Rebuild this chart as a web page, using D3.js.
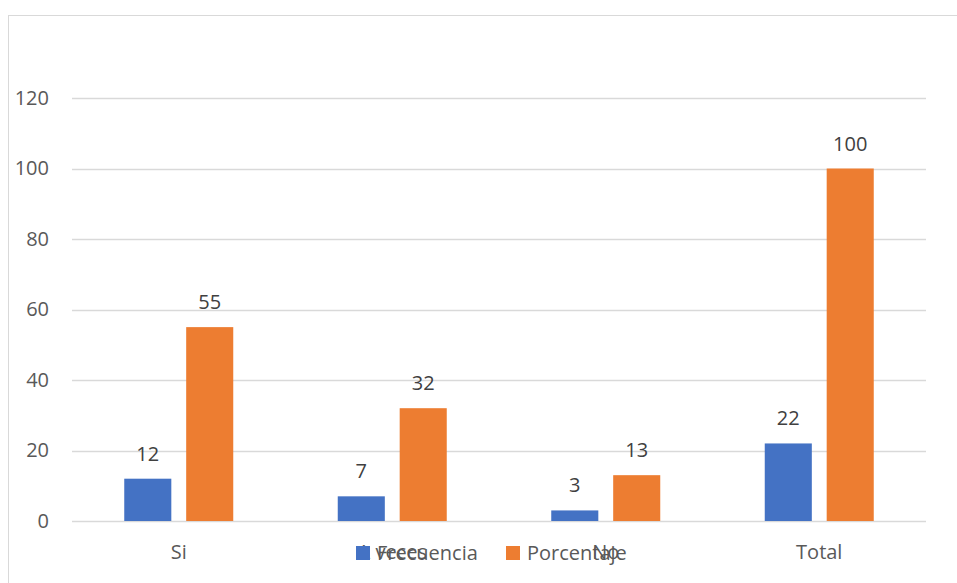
<!DOCTYPE html>
<html>
<head>
<meta charset="utf-8">
<script src="https://cdn.jsdelivr.net/npm/d3@7"></script>
<style>
  html, body { margin: 0; padding: 0; background: #fff; }
  svg { display: block; font-family: "Open Sans", "Noto Sans", "Liberation Sans", sans-serif; }
</style>
</head>
<body>
<svg id="chart" width="957" height="583"></svg>
<script>
// Respuestas por categoría
const categories = ["Si", "A veces", "No", "Total"];
const seriesNames = ["Frecuencia", "Porcentaje"];
const frecuencia = [12, 7, 3, 22];
const porcentaje = [55, 32, 13, 100];
const yTicks = [0, 20, 40, 60, 80, 100, 120];
const colors = ["#4472C4", "#ED7D31"];

const svg = d3.select("#chart");
const W = 957, H = 583;

// Chart frame
svg.append("rect")
  .attr("x", 8.5).attr("y", 15.5)
  .attr("width", W + 10).attr("height", H + 10)
  .attr("fill", "none").attr("stroke", "#D9D9D9").attr("stroke-width", 1);

const plot = { left: 72, right: 926, top: 98, bottom: 521 };

const x0 = d3.scaleBand().domain(categories)
  .range([plot.left, plot.right]).paddingInner(0).paddingOuter(0);
const x1 = d3.scaleBand().domain(seriesNames)
  .range([0, 109]).paddingInner(0.24).paddingOuter(0);
const y = d3.scaleLinear().domain([0, 120]).range([plot.bottom, plot.top]);

// Gridlines
svg.append("g").selectAll("line").data(yTicks).join("line")
  .attr("x1", plot.left).attr("x2", plot.right)
  .attr("y1", d => Math.round(y(d)) + 0.5).attr("y2", d => Math.round(y(d)) + 0.5)
  .attr("stroke", "#D9D9D9").attr("stroke-width", 1.5);

// Y axis labels
const yAxis = d3.axisLeft(y).tickValues(yTicks).tickSize(0).tickPadding(0);
const gy = svg.append("g").attr("transform", `translate(49,0)`).call(yAxis);
gy.select(".domain").remove();
gy.selectAll("text").attr("fill", "#595959").attr("font-size", 20)
  .attr("font-family", "\"Open Sans\", sans-serif");

// Bars
const data = categories.map((c, i) => ({ cat: c, vals: [frecuencia[i], porcentaje[i]] }));
const groups = svg.append("g").selectAll("g").data(data).join("g")
  .attr("transform", d => `translate(${x0(d.cat) + (x0.bandwidth() - 109) / 2},0)`);

groups.selectAll("rect").data(d => d.vals.map((v, j) => ({ s: seriesNames[j], v, j })))
  .join("rect")
  .attr("x", d => x1(d.s))
  .attr("width", x1.bandwidth())
  .attr("y", d => y(d.v))
  .attr("height", d => y(0) - y(d.v))
  .attr("fill", d => colors[d.j]);

// Value labels
groups.selectAll("text").data(d => d.vals.map((v, j) => ({ s: seriesNames[j], v, j })))
  .join("text")
  .attr("x", d => x1(d.s) + x1.bandwidth() / 2)
  .attr("y", d => y(d.v) - 18)
  .attr("text-anchor", "middle")
  .attr("font-size", 20)
  .attr("fill", "#404040")
  .text(d => d.v);

// X axis labels
const xAxis = d3.axisBottom(x0).tickSize(0).tickPadding(0);
const gx = svg.append("g").attr("transform", `translate(0,545)`).call(xAxis);
gx.select(".domain").remove();
gx.selectAll("text").attr("fill", "#595959").attr("font-size", 20)
  .attr("font-family", "\"Open Sans\", sans-serif");

// Legend
const legendX = [356, 506];
const legend = svg.append("g").selectAll("g").data(seriesNames).join("g")
  .attr("transform", (d, i) => `translate(${legendX[i]},546)`);
legend.append("rect").attr("width", 14).attr("height", 14)
  .attr("fill", (d, i) => colors[i]);
legend.append("text").attr("x", 21).attr("y", 14)
  .attr("font-size", 20).attr("fill", "#595959").text(d => d);
</script>
</body>
</html>
